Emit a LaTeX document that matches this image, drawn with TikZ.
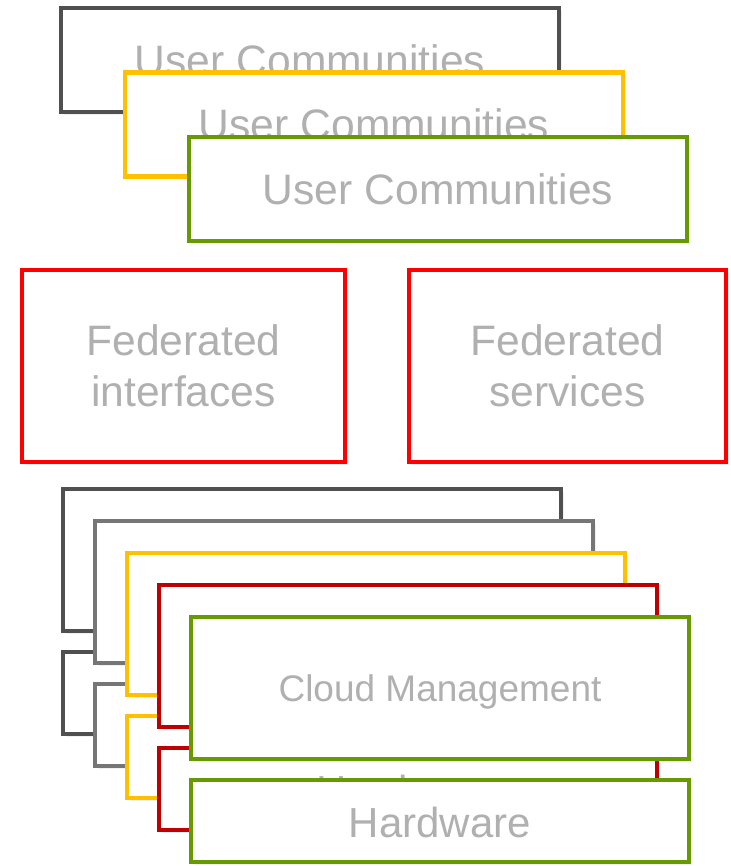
\documentclass[tikz,border=0pt]{standalone}
\usepackage{fontspec}
\setmainfont{Liberation Sans}
\usetikzlibrary{shadows}
\definecolor{StackDark}{HTML}{505050}
\definecolor{StackGray}{HTML}{767676}
\definecolor{StackYellow}{HTML}{FFC000}
\definecolor{StackRed}{HTML}{C00000}
\definecolor{StackGreen}{HTML}{669A00}
\definecolor{FedRed}{HTML}{FF0000}
\definecolor{LabelGray}{HTML}{B0B0B0}

\begin{document}
\begin{tikzpicture}[x=1pt, y=-1pt,
    layer/.style={draw=#1, fill=white, line width=4.5pt, text=LabelGray,
        drop shadow={shadow xshift=3pt, shadow yshift=-3pt, opacity=.12}},
    bigtext/.style={font=\fontsize{42.6}{51}\selectfont, text depth=0pt},
    midtext/.style={font=\fontsize{37}{44}\selectfont, text depth=0pt},
    hwtext/.style={font=\fontsize{42}{50}\selectfont, text depth=0pt, text height=33pt}]
    \useasboundingbox (0,0) rectangle (730,866);

    % User communities
    \foreach \i/\col in {0/StackDark, 1/StackYellow, 2/StackGreen} {
        \node[layer=\col, bigtext, minimum width=498pt, minimum height=104pt]
            (uc\i) at (310+64*\i, 60+64.5*\i) {User Communities};
    }

    % Federation layer
    \node[layer=FedRed, bigtext, align=center, minimum width=323pt, minimum height=192pt]
        (fedif) at (183.5, 366) {Federated\\interfaces};
    \node[layer=FedRed, bigtext, align=center, minimum width=317pt, minimum height=192pt]
        (fedsv) at (567.5, 366) {Federated\\services};

    % Resource provider stacks
    \foreach \i/\col in {0/StackDark, 1/StackGray, 2/StackYellow, 3/StackRed, 4/StackGreen} {
        \node[layer=\col, midtext, minimum width=498pt, minimum height=142pt]
            (cm\i) at (312+32*\i, 560+32*\i) {Cloud Management};
        \node[layer=\col, hwtext, minimum width=498pt, minimum height=82pt]
            (hw\i) at (312+32*\i, 693+32*\i) {Hardware};
    }
\end{tikzpicture}
\end{document}
